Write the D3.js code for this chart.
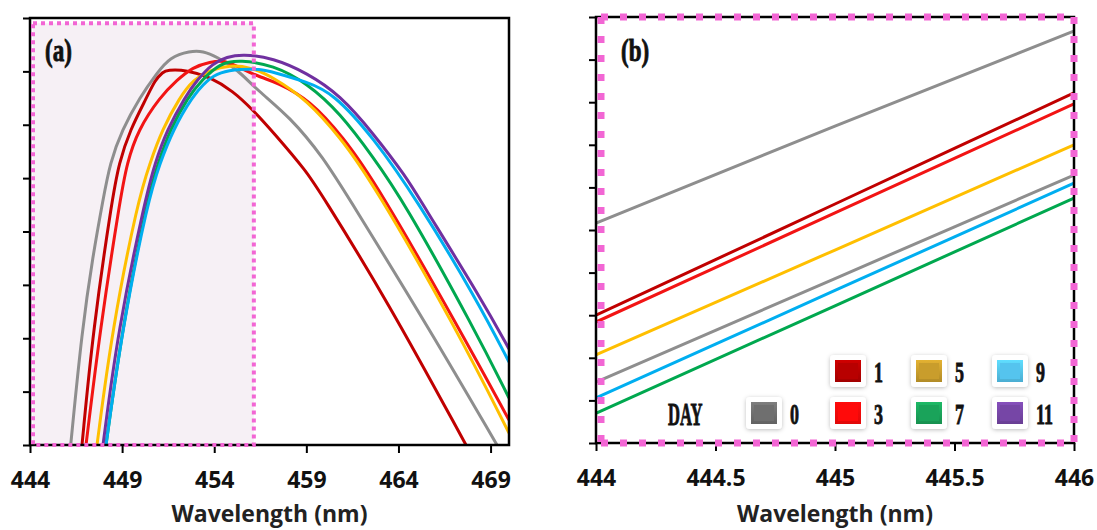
<!DOCTYPE html>
<html><head><meta charset="utf-8">
<script src="https://cdn.jsdelivr.net/npm/d3@7"></script>
<style>
html,body{margin:0;padding:0;background:#fff;}
svg{display:block;}
</style></head>
<body>
<svg id="chart" width="1097" height="530"></svg>
<script>
// ---------- DATA ----------
const days = ["0", "1", "3", "5", "7", "9", "11"];

// Panel (a): full emission spectra
const a_day0_x  = [446.209, 446.823, 447.420, 447.962, 448.342, 448.994, 449.971, 450.894, 451.599, 452.685, 453.390, 454.150, 455.236, 456.321, 458.113, 459.904, 461.370, 465.712, 469.349];
const a_day0_y  = [0, 2.155, 3.560, 4.590, 5.283, 5.902, 6.520, 6.970, 7.269, 7.382, 7.382, 7.269, 7.044, 6.651, 6.145, 5.396, 4.590, 2.155, 0];
const a_day1_x  = [446.823, 447.420, 448.451, 448.831, 449.428, 450.351, 450.785, 451.219, 451.436, 452.522, 453.770, 455.019, 456.104, 457.190, 459.035, 459.741, 463.378, 467.666];
const a_day1_y  = [0, 2.155, 4.590, 5.283, 5.902, 6.520, 6.838, 6.988, 7.026, 7.026, 6.894, 6.632, 6.276, 5.864, 5.115, 4.740, 2.717, 0];
const a_day3_x  = [447.040, 447.800, 448.885, 449.265, 449.862, 451.056, 451.979, 452.848, 453.770, 454.585, 455.399, 456.593, 457.353, 459.198, 460.990, 462.781, 467.340, 470];
const a_day3_y  = [0, 2.155, 4.590, 5.283, 5.902, 6.520, 6.838, 7.082, 7.176, 7.213, 7.063, 6.876, 6.801, 6.464, 5.770, 4.909, 2.155, 0.468];
const a_day5_x  = [447.637, 448.451, 449.862, 450.514, 451.165, 452.142, 452.848, 453.770, 454.856, 455.942, 457.190, 459.035, 460.827, 462.618, 467.178, 470];
const a_day5_y  = [0, 2.155, 4.590, 5.283, 5.902, 6.520, 6.838, 7.026, 7.119, 7.082, 6.894, 6.464, 5.770, 4.909, 2.155, 0.225];
const a_day7_x  = [448.125, 448.994, 450.351, 450.948, 451.599, 452.576, 453.336, 454.313, 455.399, 457.190, 459.035, 460.827, 462.618, 464.246, 468.154, 470];
const a_day7_y  = [0, 2.155, 4.590, 5.283, 5.902, 6.520, 6.838, 7.157, 7.213, 7.119, 6.782, 6.220, 5.396, 4.590, 2.155, 0.881];
const a_day9_x  = [448.125, 448.994, 450.405, 451.056, 451.762, 452.793, 453.607, 454.313, 455.399, 456.484, 457.190, 459.035, 460.447, 462.618, 465.006, 468.263, 470];
const a_day9_y  = [0, 2.155, 4.590, 5.283, 5.902, 6.520, 6.838, 6.988, 7.044, 7.044, 6.988, 6.801, 6.595, 5.770, 4.590, 2.717, 1.555];
const a_day11_x = [447.962, 448.777, 450.242, 450.785, 451.436, 452.413, 453.065, 453.933, 454.693, 455.507, 457.190, 459.035, 460.827, 462.618, 464.463, 465.169, 468.534, 470];
const a_day11_y = [0, 2.155, 4.590, 5.283, 5.902, 6.520, 6.838, 7.157, 7.269, 7.326, 7.251, 6.970, 6.557, 5.845, 5.002, 4.590, 2.717, 1.799];
const a_xTicks = [444, 449, 454, 459, 464, 469];
const a_yTicks = [0, 1, 2, 3, 4, 5, 6, 7, 8];
const a_highlightX = [444, 456.15];
const a_highlightY = [0, 7.9];

// Panel (b): zoomed region 444-446 nm
const b_x = [444, 445, 446];
const b_day0_top = [5.16, 7.44, 9.67];
const b_day1     = [3.00, 5.61, 8.22];
const b_day3     = [2.84, 5.40, 7.96];
const b_day5     = [2.07, 4.53, 7.00];
const b_day0_low = [1.43, 3.86, 6.29];
const b_day9     = [1.06, 3.58, 6.10];
const b_day7     = [0.70, 3.22, 5.75];
const b_xTicks = [444, 444.5, 445, 445.5, 446];
const b_yTicks = [0, 1, 2, 3, 4, 5, 6, 7, 8, 9, 10];

// ---------- STYLE ----------
const lineColor = {"0":"#8e8e8e","1":"#c00000","3":"#f21414","5":"#ffbf00","7":"#00a84f","9":"#00aef0","11":"#7030a0"};
const legendColor = {"0":"#6f6f6f","1":"#b80000","3":"#ff0a0a","5":"#c99d2c","7":"#1aa35a","9":"#55c4ee","11":"#7646a6"};
const pink = "#f266d4";
const condensed = "'Liberation Serif', 'DejaVu Serif', serif";
const sans = "'Open Sans', 'Noto Sans', sans-serif";

const svg = d3.select("#chart");
const defs = svg.append("defs");
defs.append("filter").attr("id","shadow").attr("x","-30%").attr("y","-30%").attr("width","160%").attr("height","160%")
  .append("feDropShadow").attr("dx",0).attr("dy",1).attr("stdDeviation",2).attr("flood-color","#000").attr("flood-opacity",0.25);

function condText(g, x, y, size, sx, txt) {
  return g.append("text").attr("transform",`translate(${x},${y}) scale(${sx},1)`)
    .attr("font-family",condensed).attr("font-weight","bold").attr("font-size",size)
    .attr("fill","#111").attr("stroke","#111").attr("stroke-width",0.9).text(txt);
}

// ---------- PANEL A ----------
const A = {l:30, r:509, t:18, b:445};
const xA = d3.scaleLinear().domain([444, 470]).range([A.l, A.r]);
const yA = d3.scaleLinear().domain([0, 8]).range([A.b, A.t]);

const gA = svg.append("g");
defs.append("clipPath").attr("id","clipA").append("rect")
  .attr("x",A.l).attr("y",A.t).attr("width",A.r-A.l).attr("height",A.b-A.t);

const hx0 = xA(a_highlightX[0]) + 3, hx1 = xA(a_highlightX[1]);
const hy0 = yA(a_highlightY[1]), hy1 = yA(a_highlightY[0]);
gA.append("rect").attr("x",hx0).attr("y",hy0).attr("width",hx1-hx0).attr("height",hy1-hy0)
  .attr("fill","#f6f0f5");

const lineA = d3.line().x(d=>xA(d[0])).y(d=>yA(d[1])).curve(d3.curveBasis);
const seriesA = [
  ["0", a_day0_x, a_day0_y], ["1", a_day1_x, a_day1_y], ["3", a_day3_x, a_day3_y],
  ["5", a_day5_x, a_day5_y], ["7", a_day7_x, a_day7_y], ["9", a_day9_x, a_day9_y],
  ["11", a_day11_x, a_day11_y]
];
const gLinesA = gA.append("g").attr("clip-path","url(#clipA)");
seriesA.forEach(([d, xs, ys]) => {
  gLinesA.append("path").datum(xs.map((x,i)=>[x, ys[i]]))
    .attr("d", lineA).attr("fill","none").attr("stroke", lineColor[d])
    .attr("stroke-width", 3).attr("stroke-linejoin","round");
});

const axA = gA.append("g").attr("transform",`translate(0,${A.b})`)
  .call(d3.axisBottom(xA).tickValues(a_xTicks).tickSize(8).tickSizeOuter(0).tickFormat(d3.format("d")));
axA.select(".domain").remove();
axA.selectAll("line").attr("stroke","#000").attr("stroke-width",2);
axA.selectAll("text").attr("y",43).attr("dy",0).attr("font-size",23).attr("font-weight",700)
  .attr("font-family",sans).attr("fill","#111");
const ayA = gA.append("g").attr("transform",`translate(${A.l},0)`)
  .call(d3.axisLeft(yA).tickValues(a_yTicks).tickSize(7).tickSizeOuter(0).tickFormat(""));
ayA.select(".domain").remove();
ayA.selectAll("line").attr("stroke","#000").attr("stroke-width",2);

gA.append("rect").attr("x",A.l).attr("y",A.t).attr("width",A.r-A.l).attr("height",A.b-A.t)
  .attr("fill","none").attr("stroke","#000").attr("stroke-width",2.5);
gA.append("rect").attr("x",hx0).attr("y",hy0).attr("width",hx1-hx0).attr("height",hy1-hy0)
  .attr("fill","none").attr("stroke",pink).attr("stroke-width",4).attr("stroke-dasharray","4,4");

gA.append("text").attr("x",(A.l+A.r)/2).attr("y",522).attr("text-anchor","middle")
  .attr("font-family",sans).attr("font-weight",700).attr("font-size",23).attr("fill","#222")
  .text("Wavelength (nm)");
condText(gA, 45, 61, 32, 0.72, "(a)");

// ---------- PANEL B ----------
const B = {l:596, r:1074, t:17, b:443};
const xB = d3.scaleLinear().domain([444, 446]).range([B.l, B.r]);
const yB = d3.scaleLinear().domain([0, 10]).range([B.b, B.t]);
const gB = svg.append("g");
defs.append("clipPath").attr("id","clipB").append("rect")
  .attr("x",B.l).attr("y",B.t).attr("width",B.r-B.l).attr("height",B.b-B.t);

const lineB = d3.line().x(d=>xB(d[0])).y(d=>yB(d[1])).curve(d3.curveMonotoneX);
const seriesB = [
  ["0", b_day0_top], ["1", b_day1], ["3", b_day3], ["5", b_day5],
  ["0", b_day0_low], ["9", b_day9], ["7", b_day7]
];
const gLinesB = gB.append("g").attr("clip-path","url(#clipB)");
seriesB.forEach(([d, ys]) => {
  gLinesB.append("path").datum(b_x.map((x,i)=>[x, ys[i]]))
    .attr("d", lineB).attr("fill","none").attr("stroke", lineColor[d]).attr("stroke-width",3);
});

const axB = gB.append("g").attr("transform",`translate(0,${B.b})`)
  .call(d3.axisBottom(xB).tickValues(b_xTicks).tickSize(8).tickSizeOuter(0).tickFormat(d=>String(d)));
axB.select(".domain").remove();
axB.selectAll("line").attr("stroke","#000").attr("stroke-width",2);
axB.selectAll("text").attr("y",43).attr("dy",0).attr("font-size",23).attr("font-weight",700)
  .attr("font-family",sans).attr("fill","#111");
const ayB = gB.append("g").attr("transform",`translate(${B.l},0)`)
  .call(d3.axisLeft(yB).tickValues(b_yTicks).tickSize(7).tickSizeOuter(0).tickFormat(""));
ayB.select(".domain").remove();
ayB.selectAll("line").attr("stroke","#000").attr("stroke-width",2);

gB.append("rect").attr("x",B.l).attr("y",B.t).attr("width",B.r-B.l).attr("height",B.b-B.t)
  .attr("fill","none").attr("stroke","#000").attr("stroke-width",2.5);
const pinkLines = [
  [B.l+5, B.t, B.r, B.t], [B.r, B.t, B.r, B.b], [B.l+5, B.b, B.r, B.b], [B.l+5, B.t, B.l+5, B.b]
];
pinkLines.forEach(([x1,y1,x2,y2]) => {
  gB.append("line").attr("x1",x1).attr("y1",y1).attr("x2",x2).attr("y2",y2)
    .attr("stroke",pink).attr("stroke-width",7).attr("stroke-dasharray","7,12");
});

gB.append("text").attr("x",(B.l+B.r)/2).attr("y",522).attr("text-anchor","middle")
  .attr("font-family",sans).attr("font-weight",700).attr("font-size",23).attr("fill","#222")
  .text("Wavelength (nm)");
condText(gB, 621, 61, 32, 0.72, "(b)");

// ---------- LEGEND ----------
const legendCols = [764, 848, 929, 1010];
const legendRows = [371, 413];
const legendPos = {"0":[0,1],"1":[1,0],"3":[1,1],"5":[2,0],"7":[2,1],"9":[3,0],"11":[3,1]};
const gL = svg.append("g");
condText(gL, 668, legendRows[1]+12, 32, 0.52, "DAY");
days.forEach(d => {
  const [c, r] = legendPos[d];
  const cx = legendCols[c], cy = legendRows[r];
  gL.append("rect").attr("x",cx-18).attr("y",cy-16).attr("width",36).attr("height",32).attr("rx",4)
    .attr("fill","#fff").attr("filter","url(#shadow)");
  const gid = "lg"+d;
  const grad = defs.append("linearGradient").attr("id",gid).attr("x1",0).attr("y1",0).attr("x2",0).attr("y2",1);
  const base = d3.color(legendColor[d]);
  grad.append("stop").attr("offset","0%").attr("stop-color", base.brighter(0.35));
  grad.append("stop").attr("offset","100%").attr("stop-color", base.darker(0.35));
  gL.append("rect").attr("x",cx-13).attr("y",cy-11).attr("width",26).attr("height",22)
    .attr("fill",`url(#${gid})`);
  gL.append("rect").attr("x",cx-10).attr("y",cy-8).attr("width",20).attr("height",16)
    .attr("fill",legendColor[d]);
  condText(gL, cx+26, cy+11, 30, 0.6, d);
});
</script>
</body></html>
